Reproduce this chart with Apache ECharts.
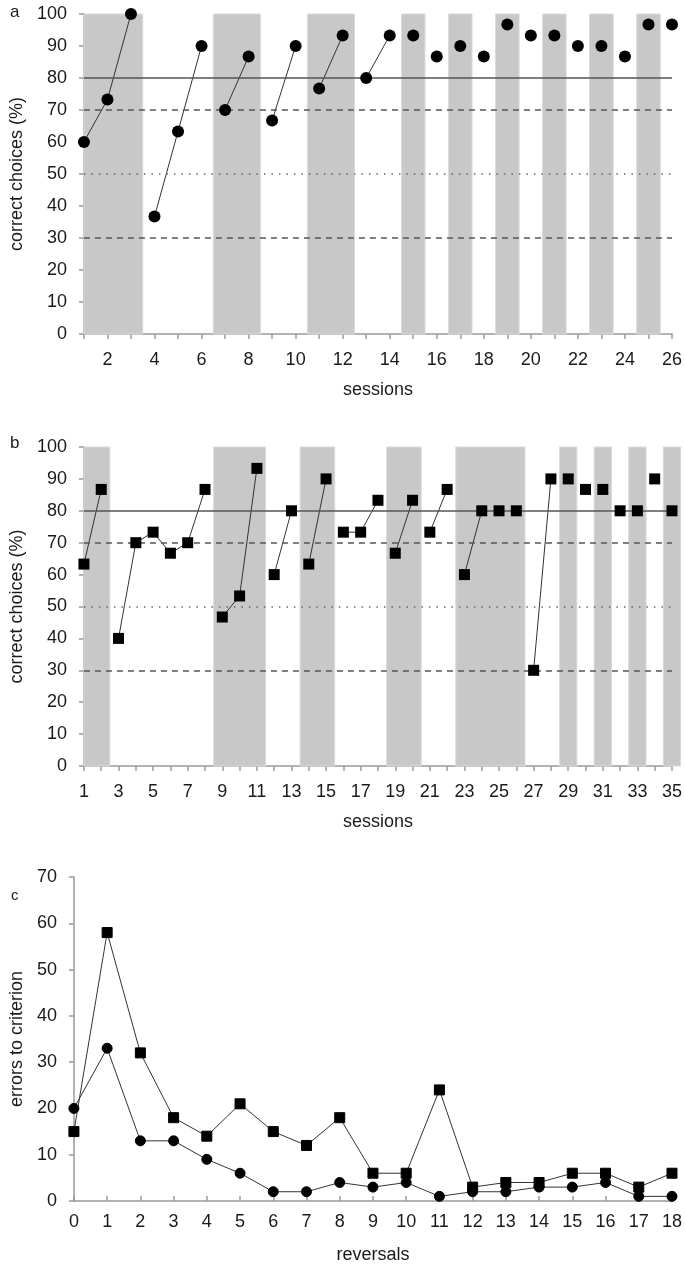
<!DOCTYPE html>
<html>
<head>
<meta charset="utf-8">
<script src="https://cdn.jsdelivr.net/npm/echarts@6/dist/echarts.min.js"></script>
<style>
  html, body { margin: 0; padding: 0; background: #fff; }
  #main { width: 685px; height: 1265px; }
</style>
</head>
<body>
<div id="main"></div>
<script>
// panel a: circles, sessions 1..26
const sessionsA = [1, 2, 3, 4, 5, 6, 7, 8, 9, 10, 11, 12, 13, 14, 15, 16, 17, 18, 19, 20, 21, 22, 23, 24, 25, 26]
const accA = [60, 73.3, 100, 36.7, 63.3, 90, 70, 86.7, 66.7, 90, 76.7, 93.3, 80, 93.3,
  93.3, 86.7, 90, 86.7, 96.7, 93.3, 93.3, 90, 90, 86.7, 96.7, 96.7]
const runsA = [[1, 3], [4, 6], [7, 8], [9, 10], [11, 12], [13, 14]]
const bandsA = [[1, 3.5], [6.5, 8.5], [10.5, 12.5], [14.5, 15.5], [16.5, 17.5],
  [18.5, 19.5], [20.5, 21.5], [22.5, 23.5], [24.5, 25.5]]

// panel b: squares, sessions 1..35
const sessionsB = [1, 2, 3, 4, 5, 6, 7, 8, 9, 10, 11, 12, 13, 14, 15, 16, 17, 18,
  19, 20, 21, 22, 23, 24, 25, 26, 27, 28, 29, 30, 31, 32, 33, 34, 35]
const accB = [63.3, 86.7, 40, 70, 73.3, 66.7, 70, 86.7, 46.7, 53.3, 93.3, 60, 80, 63.3,
  90, 73.3, 73.3, 83.3, 66.7, 83.3, 73.3, 86.7, 60, 80, 80, 80, 30, 90, 90, 86.7,
  86.7, 80, 80, 90, 80]
const runsB = [[1, 2], [3, 8], [9, 11], [12, 13], [14, 15], [16, 18], [19, 20], [21, 22], [23, 24], [27, 28]]
const bandsB = [[1, 2.5], [8.5, 11.5], [13.5, 15.5], [18.5, 20.5], [22.5, 26.5],
  [28.5, 29.5], [30.5, 31.5], [32.5, 33.5], [34.5, 35.5]]

// criterion lines (%)
const solidLines = [80]
const dashedLines = [70, 30]
const dottedLines = [50]

// panel c: errors to criterion per reversal
const reversals = [0, 1, 2, 3, 4, 5, 6, 7, 8, 9, 10, 11, 12, 13, 14, 15, 16, 17, 18]
const errSquares = [15, 58, 32, 18, 14, 21, 15, 12, 18, 6, 6, 24, 3, 4, 4, 6, 6, 3, 6]
const errCircles = [20, 33, 13, 13, 9, 6, 2, 2, 4, 3, 4, 1, 2, 2, 3, 3, 4, 1, 1]

const font = 'Liberation Sans'
const txt = '#1a1a1a'
const axisGray = '#9a9a9a'

function pairs (xs, ys) {
  return xs.map((x, i) => [x, ys[i]])
}

function critLines () {
  let d = []
  solidLines.forEach(v => d.push({ yAxis: v, lineStyle: { type: 'solid', color: '#555', width: 1.5 } }))
  dashedLines.forEach(v => d.push({ yAxis: v, lineStyle: { type: [6, 5], color: '#555', width: 1.5 } }))
  dottedLines.forEach(v => d.push({ yAxis: v, lineStyle: { type: [1.5, 6], color: '#666', width: 1.5 } }))
  return d
}

function panelSeries (idx, xs, ys, runs, bands, symbol, size) {
  let out = []
  // shaded blocks (custom rects so the last one may pass the axis end)
  out.push({
    type: 'custom',
    xAxisIndex: idx,
    yAxisIndex: idx,
    data: bands.map(b => [b[0], b[1], 0, 100]),
    silent: true,
    clip: false,
    z: 1,
    renderItem: (params, api) => {
      let p0 = api.coord([api.value(0), api.value(3)])
      let p1 = api.coord([api.value(1), api.value(2)])
      return {
        type: 'rect',
        shape: { x: p0[0], y: p0[1], width: p1[0] - p0[0], height: p1[1] - p0[1] },
        style: { fill: '#c8c8c8', stroke: '#dadada', lineWidth: 1 }
      }
    },
    markLine: {
      silent: true,
      symbol: 'none',
      label: { show: false },
      data: critLines()
    }
  })
  // joined runs
  runs.forEach(r => {
    let seg = []
    for (let s = r[0]; s <= r[1]; s++) seg.push([s, ys[xs.indexOf(s)]])
    out.push({
      type: 'line',
      xAxisIndex: idx,
      yAxisIndex: idx,
      data: seg,
      showSymbol: false,
      silent: true,
      z: 3,
      lineStyle: { color: '#333', width: 1 }
    })
  })
  out.push({
    type: 'scatter',
    xAxisIndex: idx,
    yAxisIndex: idx,
    data: pairs(xs, ys),
    symbol: symbol,
    symbolSize: size,
    clip: false,
    z: 5,
    itemStyle: { color: '#000', opacity: 1 }
  })
  return out
}

function xAx (idx, min, max, keep, name, gap, margin, inside) {
  return {
    type: 'value',
    gridIndex: idx,
    min: min,
    max: max,
    interval: 1,
    name: name,
    nameLocation: 'middle',
    nameGap: gap,
    nameTextStyle: { fontFamily: font, fontSize: 18, color: txt },
    axisLine: { show: true, onZero: false, lineStyle: { color: axisGray, width: 1.5 } },
    axisTick: { show: true, inside: inside, length: 5, lineStyle: { color: axisGray, width: 1.5 } },
    axisLabel: {
      margin: margin,
      fontFamily: font,
      fontSize: 18,
      color: txt,
      formatter: v => keep(v) ? String(v) : ''
    },
    splitLine: { show: false }
  }
}

function yAx (idx, max, name, gap) {
  return {
    type: 'value',
    gridIndex: idx,
    min: 0,
    max: max,
    interval: 10,
    name: name,
    nameLocation: 'middle',
    nameGap: gap,
    nameTextStyle: { fontFamily: font, fontSize: 18, color: txt },
    axisLine: { show: true, lineStyle: { color: axisGray, width: 1.5 } },
    axisTick: { show: true, length: 5, lineStyle: { color: axisGray, width: 1.5 } },
    axisLabel: { margin: 17, fontFamily: font, fontSize: 18, color: txt },
    splitLine: { show: false }
  }
}

let chart = echarts.init(document.getElementById('main'))

let option = {
  animation: false,
  backgroundColor: '#fff',
  title: [
    { text: 'a', left: 5, top: -1, textStyle: { fontFamily: font, fontSize: 17, fontWeight: 'normal', color: txt } },
    { text: 'b', left: 5, top: 430, textStyle: { fontFamily: font, fontSize: 17, fontWeight: 'normal', color: txt } },
    { text: 'c', left: 6, top: 883, textStyle: { fontFamily: font, fontSize: 15, fontWeight: 'normal', color: txt } }
  ],
  grid: [
    { left: 82, top: 14, width: 590, height: 320 },
    { left: 83, top: 447, width: 589, height: 319 },
    { left: 70, top: 877, width: 602, height: 325 }
  ],
  xAxis: [
    xAx(0, 1, 26, v => v % 2 === 0, 'sessions', 47, 17, false),
    xAx(1, 1, 35, v => v % 2 === 1, 'sessions', 47, 17, false),
    xAx(2, 0, 18, v => true, 'reversals', 45, 12, true)
  ],
  yAxis: [
    yAx(0, 100, 'correct choices (%)', 56),
    yAx(1, 100, 'correct choices (%)', 56),
    yAx(2, 70, 'errors to criterion', 45)
  ],
  series: [].concat(
    panelSeries(0, sessionsA, accA, runsA, bandsA, 'circle', 12),
    panelSeries(1, sessionsB, accB, runsB, bandsB, 'rect', 11),
    [
      {
        type: 'line',
        xAxisIndex: 2,
        yAxisIndex: 2,
        data: pairs(reversals, errSquares),
        symbol: 'rect',
        symbolSize: 10,
        showAllSymbol: true,
        clip: false,
        lineStyle: { color: '#333', width: 1 },
        itemStyle: { color: '#000', borderColor: '#000' }
      },
      {
        type: 'line',
        xAxisIndex: 2,
        yAxisIndex: 2,
        data: pairs(reversals, errCircles),
        symbol: 'circle',
        symbolSize: 10,
        showAllSymbol: true,
        clip: false,
        lineStyle: { color: '#333', width: 1 },
        itemStyle: { color: '#000', borderColor: '#000' }
      }
    ]
  )
}

chart.setOption(option)
window.addEventListener('resize', () => {
  chart.resize()
})
</script>
</body>
</html>
